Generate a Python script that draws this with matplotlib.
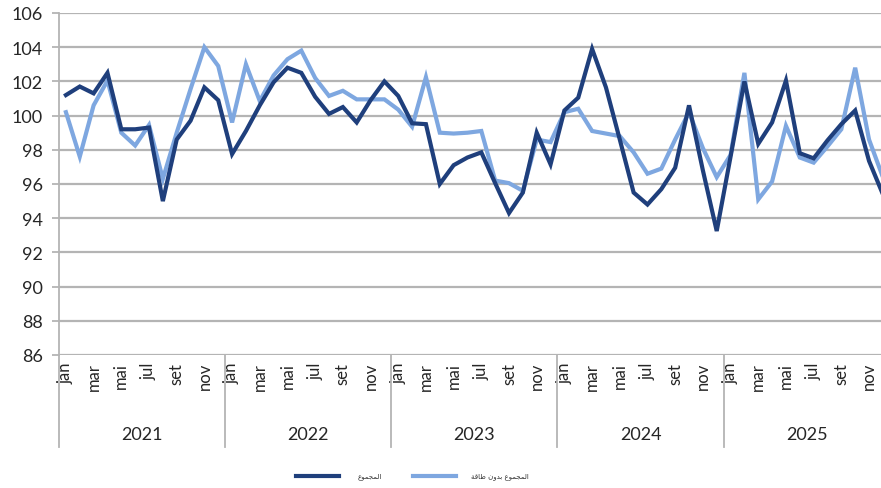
import matplotlib.pyplot as plt
from matplotlib.lines import Line2D

years = ['2021', '2022', '2023', '2024', '2025']
months = ['jan', 'fev', 'mar', 'abr', 'mai', 'jun', 'jul', 'ago', 'set', 'out', 'nov', 'dez']

# المجموع
total = [101.2, 101.7, 101.3, 102.5, 99.2, 99.2, 99.3, 95.0, 98.6, 99.7, 101.65, 100.9,
         97.75, 99.1, 100.6, 101.95, 102.8, 102.5, 101.1, 100.1, 100.5, 99.6, 100.9, 102.0,
         101.15, 99.55, 99.5, 96.0, 97.1, 97.55, 97.85, 96.05, 94.3, 95.5, 99.0, 97.15,
         100.3, 101.05, 103.9, 101.65, 98.6, 95.5, 94.8, 95.7, 96.95, 100.6, 96.8, 93.25,
         97.6, 102.0, 98.35, 99.6, 102.05, 97.8, 97.5, 98.55, 99.5, 100.3, 97.35, 95.4]

# المجموع بدون طاقة
no_energy = [100.2, 97.6, 100.6, 102.05, 99.0, 98.25, 99.45, 96.3, 99.0, 101.55, 104.0, 102.9,
             99.6, 103.0, 100.85, 102.35, 103.3, 103.8, 102.2, 101.15, 101.45, 100.95, 100.95, 100.95,
             100.35, 99.35, 102.25, 99.0, 98.95, 99.0, 99.1, 96.2, 96.05, 95.6, 98.6, 98.45,
             100.2, 100.4, 99.1, 98.95, 98.8, 97.85, 96.6, 96.9, 98.6, 100.2, 98.1, 96.4,
             97.7, 102.5, 95.1, 96.15, 99.4, 97.55, 97.25, 98.2, 99.2, 102.8, 98.6, 96.4]

# Arabic labels pre-shaped (presentation forms, visual order)
lbl_total = '\ufec9\ufeee\ufee4\ufea0\ufee4\ufedf\ufe8d'
lbl_no_energy = '\ufe94\ufed7\ufe8e\ufec3 \ufee5\ufeed\ufeaa\ufe91 ' + lbl_total

dark = '#1f3f7c'
light = '#7ea7e0'
grid_c = '#b4b4b4'

plt.rcParams['font.family'] = ['Lato', 'DejaVu Sans']

fig = plt.figure(figsize=(8.81, 4.89), dpi=100)
W, H = 881, 489
ax = fig.add_axes([59 / W, (H - 356) / H, 830.8 / W, 342 / H])

x = range(len(total))
ax.plot(x, no_energy, color=light, lw=3.0, solid_joinstyle='miter', zorder=3)
ax.plot(x, total, color=dark, lw=3.0, solid_joinstyle='miter', zorder=4)

ax.set_xlim(-0.5, len(total) - 0.5)
ax.set_ylim(86, 106)
ax.set_yticks(range(86, 107, 2))
ax.yaxis.grid(True, color=grid_c, lw=1.6)
ax.set_axisbelow(True)
for s in ['top', 'right', 'bottom']:
    ax.spines[s].set_visible(False)
ax.spines['left'].set_color(grid_c)
ax.spines['left'].set_linewidth(1.3)
ax.tick_params(axis='y', length=5, width=1.3, color=grid_c, pad=6.5, labelsize=13, labelcolor='#262626')

xt = list(range(0, 60, 2))
ax.set_xticks(xt)
ax.set_xticklabels([months[i % 12] for i in xt], rotation=90, va='top', ha='center')
ax.tick_params(axis='x', length=0, pad=5, labelsize=12, labelcolor='#262626')

# year separators and labels
for k in range(len(years) + 1):
    ax.plot([12 * k - 0.5, 12 * k - 0.5], [0, -0.269], color=grid_c, lw=1.3,
            transform=ax.get_xaxis_transform(), clip_on=False)
for k, y in enumerate(years):
    ax.text(12 * k + 5.5, -0.231, y, transform=ax.get_xaxis_transform(),
            ha='center', va='center', fontsize=13, color='#262626')

# legend
fy = (H - 477) / H
fig.add_artist(Line2D([296 / W, 339 / W], [fy, fy], color=dark, lw=3.0))
fig.add_artist(Line2D([413 / W, 456 / W], [fy, fy], color=light, lw=3.0))
fig.text(358 / W, fy, lbl_total, family=['DejaVu Sans'], fontsize=5, ha='left', va='center', color='#333333')
fig.text(471 / W, fy, lbl_no_energy, family=['DejaVu Sans'], fontsize=5, ha='left', va='center', color='#333333')

fig.savefig('out.png', dpi=100)
